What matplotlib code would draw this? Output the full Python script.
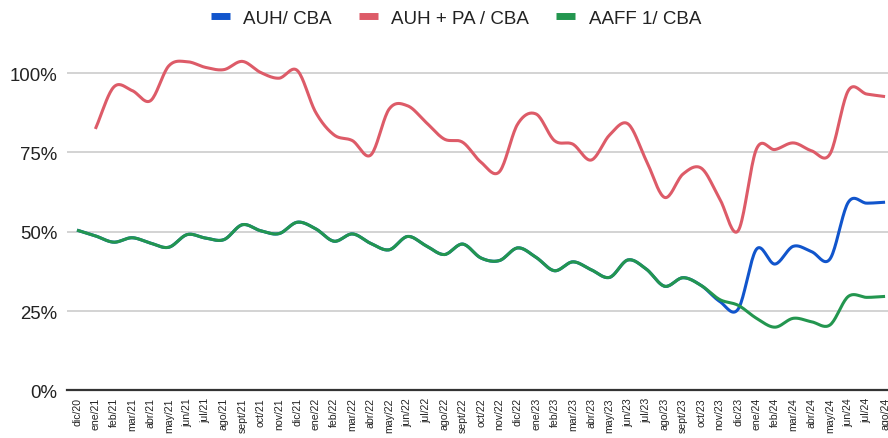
import matplotlib
matplotlib.use("Agg")
import matplotlib.pyplot as plt
from matplotlib.lines import Line2D
import numpy as np

plt.rcParams['font.family'] = ['Liberation Sans', 'DejaVu Sans']

meses = ["dic/20",
         "ene/21", "feb/21", "mar/21", "abr/21", "may/21", "jun/21", "jul/21", "ago/21", "sept/21", "oct/21", "nov/21", "dic/21",
         "ene/22", "feb/22", "mar/22", "abr/22", "may/22", "jun/22", "jul/22", "ago/22", "sept/22", "oct/22", "nov/22", "dic/22",
         "ene/23", "feb/23", "mar/23", "abr/23", "may/23", "jun/23", "jul/23", "ago/23", "sept/23", "oct/23", "nov/23", "dic/23",
         "ene/24", "feb/24", "mar/24", "abr/24", "may/24", "jun/24", "jul/24", "ago/24"]

# AAFF 1/ CBA (%)
aaff = [50.5, 48.7, 46.7, 48.1, 46.4, 45.1, 49.1, 48.0, 47.5, 52.2, 50.3, 49.4,
        53.0, 50.9, 47.0, 49.3, 46.3, 44.3, 48.5, 45.6, 42.8, 46.1, 41.7, 40.9,
        44.9, 41.9, 37.7, 40.5, 38.0, 35.6, 41.1, 38.2, 32.8, 35.5, 33.0, 28.6,
        26.8, 22.7, 19.9, 22.7, 21.6, 20.6, 29.6, 29.3, 29.6]

# AUH/ CBA (%) - igual a AAFF hasta oct/23
auh = aaff[:35] + [28.0, 25.6, 44.5, 39.8, 45.4, 43.7, 41.4, 59.3, 59.0, 59.3]

# AUH + PA / CBA (%) - sin dato en dic/20
auh_pa = [np.nan, 82.4, 95.6, 94.5, 91.3, 102.3, 103.6, 101.8, 101.1, 103.7, 100.2, 98.4,
          100.8, 87.6, 80.5, 78.7, 74.2, 88.7, 89.7, 84.5, 79.2, 78.2, 71.9, 68.9,
          84.0, 87.1, 78.7, 77.6, 72.6, 80.5, 84.0, 72.4, 60.8, 68.2, 70.0, 60.3,
          50.3, 76.1, 75.9, 78.0, 75.5, 74.5, 94.5, 93.4, 92.6]


def suavizar(y, pasos=20):
    # curva tipo Hermite (como curveType 'function') entre los puntos
    y = np.asarray(y, dtype=float)
    x = np.arange(len(y))
    ok = ~np.isnan(y)
    x, y = x[ok], y[ok]
    m = np.gradient(y)
    m[1:-1] = (y[2:] - y[:-2]) / 2
    xs, ys = [], []
    for i in range(len(y) - 1):
        t = np.linspace(0, 1, pasos, endpoint=False)
        h00 = 2*t**3 - 3*t**2 + 1
        h10 = t**3 - 2*t**2 + t
        h01 = -2*t**3 + 3*t**2
        h11 = t**3 - t**2
        xs.append(x[i] + t)
        ys.append(h00*y[i] + h10*m[i] + h01*y[i+1] + h11*m[i+1])
    xs.append([x[-1]])
    ys.append([y[-1]])
    return np.concatenate(xs), np.concatenate(ys)


fig = plt.figure(figsize=(8.88, 4.39), dpi=100)
ax = fig.add_axes([67/888, 1 - 391.3/439, 1 - 67/888, (391.3 - 42.4)/439])

azul = "#1155cc"
rojo = "#dd5b68"
verde = "#23964f"

ax.plot(*suavizar(auh), color=azul, lw=2.2, solid_capstyle='butt', zorder=3)
ax.plot(*suavizar(auh_pa), color=rojo, lw=2.2, solid_capstyle='butt', zorder=3)
ax.plot(*suavizar(aaff), color=verde, lw=2.2, solid_capstyle='butt', zorder=4)

ax.set_ylim(0, 110)
ax.set_xlim(-0.545, len(meses) - 1 + 0.16)
ax.set_yticks([0, 25, 50, 75, 100])
ax.set_yticklabels(["0%", "25%", "50%", "75%", "100%"])
ax.set_xticks(range(len(meses)))
ax.set_xticklabels(meses, rotation=90)

ax.grid(axis='y', color='#cccccc', lw=1.2)
ax.set_axisbelow(True)
for s in ['top', 'right', 'left']:
    ax.spines[s].set_visible(False)
ax.spines['bottom'].set_color('#333333')
ax.spines['bottom'].set_linewidth(1.6)
ax.spines['bottom'].set_zorder(5)
ax.tick_params(axis='y', length=0, pad=7, labelsize=13.4, labelcolor='#222222')
ax.tick_params(axis='x', length=0, pad=5, labelsize=7.6, labelcolor='#222222')

handles = [Line2D([], [], color=c, lw=5, solid_capstyle='butt') for c in (azul, rojo, verde)]
fig.legend(handles, ["AUH/ CBA", "AUH + PA / CBA", "AAFF 1/ CBA"], ncol=3, frameon=False,
           loc='center left', bbox_to_anchor=(211/888, 1 - 19/439), fontsize=13.5,
           handlelength=1.0, handletextpad=0.72, columnspacing=1.45, labelcolor='#222222',
           borderaxespad=0, borderpad=0)

fig.savefig("out.png", dpi=100)
